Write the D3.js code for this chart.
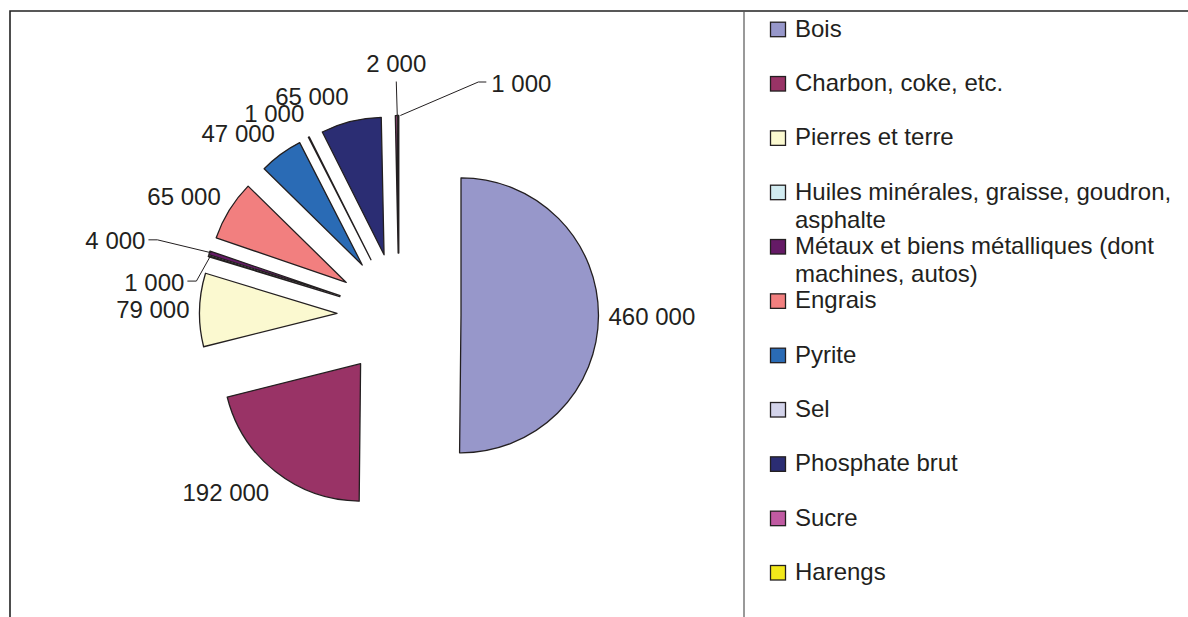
<!DOCTYPE html>
<html>
<head>
<meta charset="utf-8">
<script src="https://cdn.jsdelivr.net/npm/d3@7"></script>
<style>
  body { margin: 0; background: #fff; }
  text { font-family: "Liberation Sans", Arial, sans-serif; fill: #231f20; }
</style>
</head>
<body>
<div id="chart"></div>
<script>
const categories = [
  "Bois",
  "Charbon, coke, etc.",
  "Pierres et terre",
  "Huiles minérales, graisse, goudron, asphalte",
  "Métaux et biens métalliques (dont machines, autos)",
  "Engrais",
  "Pyrite",
  "Sel",
  "Phosphate brut",
  "Sucre",
  "Harengs"
];
const values = [460000, 192000, 79000, 1000, 4000, 65000, 47000, 1000, 65000, 2000, 1000];
const colors = ["#9797ca", "#993366", "#fbf9d0", "#d2ecf1", "#651a66", "#f27f7f",
                "#2a6bb5", "#d3d3ea", "#2b2d73", "#c05aa2", "#f2e81b"];

// labels of the thin slices are moved away and get a leader line
const leaderLabels = {
  "Huiles minérales, graisse, goudron, asphalte": { dx: -24, dy: 26, anchor: "end" },
  "Métaux et biens métalliques (dont machines, autos)": { dx: -64, dy: -12, anchor: "end" },
  "Sucre": { dx: 0, dy: -52, anchor: "middle" },
  "Harengs": { dx: 93, dy: -32.5, anchor: "start" }
};

const width = 1188;
const height = 617;
const fontSize = 24;
const cx = 399, cy = 315;
const radius = 137.5;
const explode = 62;

const fmt = d3.formatLocale({ decimal: ",", thousands: " ", grouping: [3], currency: ["", " €"] }).format(",d");

const svg = d3.select("#chart")
  .append("svg")
  .attr("width", width)
  .attr("height", height);

// frame
svg.append("path")
  .attr("d", `M10,${height} L10,11 L${width},11`)
  .attr("fill", "none")
  .attr("stroke", "#222")
  .attr("stroke-width", 1.6);
svg.append("line")
  .attr("x1", 744).attr("x2", 744)
  .attr("y1", 11).attr("y2", height)
  .attr("stroke", "#555")
  .attr("stroke-width", 1.2);

const pie = d3.pie().sort(null).value(d => d);
const arcs = pie(values);
const arc = d3.arc().innerRadius(0).outerRadius(radius);

const dirOf = d => {
  const m = (d.startAngle + d.endAngle) / 2;
  return [Math.sin(m), -Math.cos(m)];
};

const slices = svg.append("g");
slices.selectAll("path")
  .data(arcs)
  .join("path")
  .attr("transform", d => {
    const [ux, uy] = dirOf(d);
    return `translate(${cx + ux * explode},${cy + uy * explode})`;
  })
  .attr("d", arc)
  .attr("fill", (d, i) => colors[i])
  .attr("stroke", "#231f20")
  .attr("stroke-width", 1.3)
  .attr("stroke-linejoin", "round");

// data labels
const labels = svg.append("g");
arcs.forEach((d, i) => {
  const [ux, uy] = dirOf(d);
  const ox = cx + ux * (explode + radius);
  const oy = cy + uy * (explode + radius);
  const lead = leaderLabels[categories[i]];
  let x, y, anchor;
  if (lead) {
    x = ox + lead.dx;
    y = oy + lead.dy;
    anchor = lead.anchor;
    let pts;
    if (anchor === "end") pts = [[x + 3, y - 1], [x + 12, y - 1], [ox + 2, oy]];
    else if (anchor === "start") pts = [[x - 5, y - 1], [x - 13, y - 1], [ox + 2, oy]];
    else pts = [[x, y + 18], [ox + 1, oy]];
    labels.append("path")
      .attr("d", d3.line()(pts))
      .attr("fill", "none")
      .attr("stroke", "#231f20")
      .attr("stroke-width", 1);
  } else {
    x = ox + ux * 10;
    y = oy + uy * 26;
    anchor = ux > 0.1 ? "start" : ux < -0.1 ? "end" : "middle";
  }
  labels.append("text")
    .attr("x", x)
    .attr("y", y + fontSize * 0.358)
    .attr("text-anchor", anchor)
    .attr("font-size", fontSize)
    .text(fmt(values[i]));
});

// legend
const legendY = d3.scaleLinear().domain([0, categories.length - 1]).range([36.7, 580]);
const wrapWidth = 385;
const legend = svg.append("g");
categories.forEach((name, i) => {
  const base = legendY(i);
  legend.append("rect")
    .attr("x", 770.5).attr("y", base - 14.5)
    .attr("width", 15).attr("height", 14.5)
    .attr("fill", colors[i])
    .attr("stroke", "#231f20")
    .attr("stroke-width", 1.3);
  const t = legend.append("text")
    .attr("x", 795).attr("y", base)
    .attr("font-size", fontSize);
  const words = name.split(" ");
  let line = [];
  let tspan = t.append("tspan").attr("x", 795).attr("y", base);
  let lineNo = 0;
  words.forEach(w => {
    line.push(w);
    tspan.text(line.join(" "));
    if (tspan.node().getComputedTextLength() > wrapWidth && line.length > 1) {
      line.pop();
      tspan.text(line.join(" "));
      line = [w];
      lineNo++;
      tspan = t.append("tspan").attr("x", 795).attr("y", base + lineNo * 28).text(w);
    }
  });
});
</script>
</body>
</html>
